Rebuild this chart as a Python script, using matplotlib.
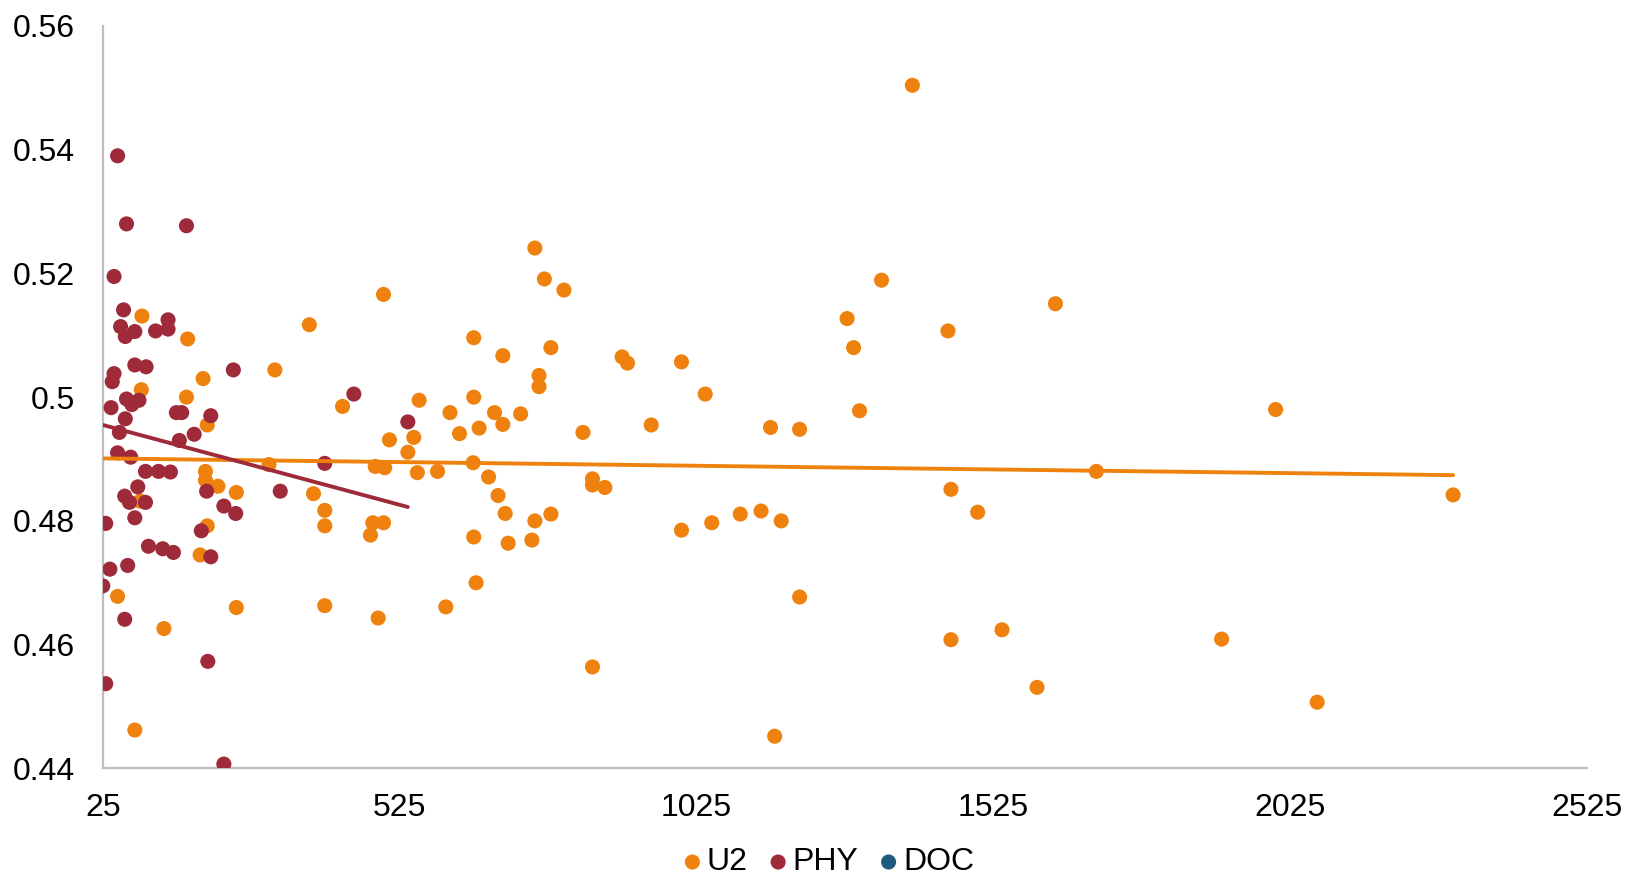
import numpy as np
import matplotlib
matplotlib.use("Agg")
import matplotlib.pyplot as plt
from matplotlib.ticker import FuncFormatter

plt.rcParams["font.family"] = ["Liberation Sans", "DejaVu Sans"]

# U2 series
u2_x = [27, 91, 90, 168, 166, 194, 201, 198, 198, 219, 250, 201, 189, 50, 128, 250, 79, 88,
        305, 315, 373, 380, 399, 399, 399, 429, 484, 476, 480, 500, 498, 498, 489, 508, 539,
        549, 558, 555, 589, 603, 610, 626, 650, 650, 659, 649, 650, 654, 675, 685, 699, 699,
        691, 703, 708, 729, 753, 769, 802, 780, 760, 760, 753, 780, 748, 834, 850, 850, 871,
        850, 900, 909, 949, 1000, 1000, 1040, 1051, 1099, 1134, 1150, 1168, 1157, 1199, 1199,
        1279, 1290, 1300, 1337, 1389, 1449, 1454, 1454, 1499, 1540, 1599, 1630, 1699, 1910,
        2001, 2071, 2300]
u2_y = [0.4796, 0.5131, 0.5012, 0.5094, 0.5000, 0.5030, 0.4955, 0.4880, 0.4866, 0.4856, 0.4846,
        0.4792, 0.4745, 0.4678, 0.4626, 0.4660, 0.4462, 0.4832,
        0.4891, 0.5044, 0.5117, 0.4844, 0.4817, 0.4792, 0.4663, 0.4985, 0.4888, 0.4777, 0.4797,
        0.4886, 0.5166, 0.4797, 0.4643, 0.4931, 0.4911, 0.4935, 0.4995, 0.4878, 0.4880, 0.4661,
        0.4975, 0.4941, 0.5096, 0.5000, 0.4950, 0.4894, 0.4774, 0.4700, 0.4871, 0.4975, 0.5067,
        0.4956, 0.4841, 0.4812, 0.4764, 0.4973, 0.5241, 0.5191, 0.5173, 0.5080, 0.5035, 0.5017,
        0.4800, 0.4811, 0.4769, 0.4943, 0.4868, 0.4858, 0.4854, 0.4564, 0.5065, 0.5055, 0.4955,
        0.5057, 0.4785, 0.5005, 0.4797, 0.4811, 0.4816, 0.4951, 0.4800, 0.4452, 0.4948, 0.4677,
        0.5127, 0.5080, 0.4978, 0.5189, 0.5504, 0.5107, 0.4851, 0.4608, 0.4814, 0.4624, 0.4531,
        0.5151, 0.4880, 0.4609, 0.4980, 0.4507, 0.4842]

# PHY series
phy_x = [50, 65, 166, 44, 60, 55, 63, 79, 135, 135, 114, 98, 79, 44, 41, 39, 65, 74, 86, 63, 53,
         149, 158, 179, 154, 207, 245, 50, 72, 97, 119, 139, 62, 70, 97, 84, 79, 30, 102, 126,
         144, 37, 67, 25, 62, 30, 200, 191, 207, 202, 229, 249, 229, 324, 399, 448, 539]
phy_y = [0.5390, 0.5280, 0.5277, 0.5195, 0.5141, 0.5114, 0.5098, 0.5106, 0.5125, 0.5110, 0.5107,
         0.5049, 0.5052, 0.5038, 0.5025, 0.4983, 0.4997, 0.4988, 0.4995, 0.4965, 0.4943, 0.4975,
         0.4975, 0.4940, 0.4930, 0.4970, 0.5044, 0.4910, 0.4903, 0.4880, 0.4880, 0.4879, 0.4840,
         0.4830, 0.4830, 0.4855, 0.4805, 0.4796, 0.4759, 0.4755, 0.4749, 0.4722, 0.4728, 0.4695,
         0.4641, 0.4537, 0.4848, 0.4784, 0.4742, 0.4573, 0.4407, 0.4812, 0.4824, 0.4848, 0.4893,
         0.5005, 0.4960]

# DOC series has no values in this range
doc_x = []
doc_y = []

# linear trendlines (slope, intercept) for U2 and PHY
u2_trend = (-1.19e-6, 0.49013)
phy_trend = (-2.58e-5, 0.49615)

c_u2 = "#EF820E"
c_phy = "#9E2A3A"
c_doc = "#1F5B7E"

fig = plt.figure(figsize=(16.26, 8.8), dpi=100)
ax = fig.add_axes([0.0632, 0.1268, 0.9758 - 0.0632, 0.9706 - 0.1268])

ax.scatter(u2_x, u2_y, s=118, color=c_u2, edgecolors="none", label="U2", zorder=2)
ax.scatter(phy_x, phy_y, s=118, color=c_phy, edgecolors="none", label="PHY", zorder=3)
ax.scatter(doc_x, doc_y, s=118, color=c_doc, edgecolors="none", label="DOC", zorder=3)

# trendlines span each series' x range
for xs, (k, b), col in [(u2_x, u2_trend, c_u2), (phy_x, phy_trend, c_phy)]:
    xx = np.array([min(xs), max(xs)])
    ax.plot(xx, k * xx + b, color=col, lw=2.8, solid_capstyle="round", zorder=4)

ax.set_xlim(25, 2525)
ax.set_ylim(0.44, 0.56)
ax.set_xticks(np.arange(25, 2526, 500))
ax.set_yticks(np.arange(0.44, 0.5601, 0.02))
ax.yaxis.set_major_formatter(FuncFormatter(lambda v, p: "%g" % round(v, 2)))

for side in ["top", "right"]:
    ax.spines[side].set_visible(False)
for side in ["left", "bottom"]:
    ax.spines[side].set_color("#BFBFBF")
    ax.spines[side].set_linewidth(1.6)

ax.tick_params(axis="both", length=0, labelsize=23, colors="black")
ax.tick_params(axis="y", pad=20)
ax.tick_params(axis="x", pad=18)

fig.legend(loc="center", bbox_to_anchor=(0.51, 0.02), ncol=3, frameon=False, fontsize=23,
           handlelength=0.5, handletextpad=0.2, columnspacing=0.7, markerscale=1.0)

fig.savefig("out.png", dpi=100)
